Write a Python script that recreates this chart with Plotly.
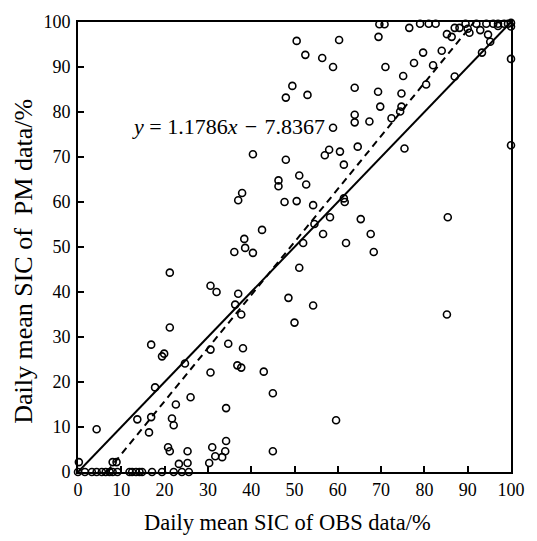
import plotly.graph_objects as go

# OBS (x) and PM (y) daily mean SIC, %
obs = [69.6, 70.8, 76.5, 69.4, 79, 81, 82.6, 85.2, 86.3, 87, 88.1, 89.5, 90, 90.4, 92, 92.9, 94.3, 94.7, 95.2, 95.9,
       97, 98.4, 99.3, 100, 100, 97, 93.3, 79.7, 84, 71, 77.6, 82, 75.1, 80.4, 87, 69.3, 74.7, 69.8, 74.7, 74.4,
       72.4, 67.3, 75.4, 100, 100,
       50.5, 60.3, 52.5, 56.4, 58.9, 49.5, 48, 53, 63.9, 63.9, 63.9, 58.9, 40.4, 48, 58, 57, 60.5, 64.6,
       61.4, 46.3, 46.3, 51.1, 52.7, 37.9, 37, 47.7, 50.5, 54.3, 61.4, 61.6, 65.3, 58.2, 54.6, 56.6, 67.6, 68.3,
       61.9, 52, 42.5, 38.4, 38.6, 36.1, 40.4, 51.1, 37, 36.3, 48.6, 54.3,
       85.4, 85.2,
       21.2, 30.6, 32,
       21.2, 16.9, 19.4, 19.9, 24.7, 30.6, 30.6, 17.8, 13.7, 16.9, 4.3, 16.4, 22.6, 26, 21.7, 22.1, 20.8, 21.2,
       25.3, 23.3, 25.3, 30.3, 31, 31.7, 33.3, 34, 34.2, 34.2, 34.7, 0.2, 8, 8.9,
       50, 37.7, 38.1, 36.8, 37.7, 42.9, 45, 59.6, 45,
       0, 1.6, 3.2, 4.3, 5.5, 6.4, 7.3, 8, 9.1, 11.9, 12.5, 13.4, 14.2, 14.8, 17.1, 19.4, 22.1, 24, 25.6]
pm = [99.5, 99.5, 98.7, 96.7, 99.6, 99.6, 99.6, 97.3, 96.7, 98.7, 98.7, 99.6, 98.5, 97.6, 99.6, 98.2, 99.6, 97.2, 95.6, 99.6,
      99.6, 99.6, 99.6, 99.8, 99, 99.1, 93.2, 93.2, 93.6, 90, 90.9, 90.4, 88, 86.1, 87.9, 84.5, 84.1, 81.2, 81.2, 80.1,
      78.6, 77.9, 71.9, 91.8, 72.6,
      95.8, 96, 92.7, 92, 90, 85.8, 83.2, 83.8, 85.4, 79.4, 77.7, 76.5, 70.6, 69.4, 71.6, 70.4, 71.2, 72.3,
      68.3, 64.8, 63.5, 65.9, 63.9, 62, 60.4, 60, 60.2, 59.3, 60.8, 60, 56.2, 56.6, 55.1, 52.9, 52.9, 48.9,
      50.9, 50.9, 53.8, 51.8, 49.8, 48.9, 48.7, 45.4, 39.6, 37.2, 38.7, 37,
      56.6, 35,
      44.3, 41.4, 40,
      32.1, 28.3, 25.7, 26.3, 24.1, 27.2, 22.1, 18.8, 11.7, 12.2, 9.5, 8.8, 15, 16.6, 11.9, 10.4, 5.5, 4.6,
      4.6, 1.8, 2, 2, 5.5, 3.5, 3.3, 4.6, 6.9, 14.2, 28.5, 2.2, 2.2, 2.2,
      33.2, 35, 27.5, 23.7, 23.2, 22.3, 17.5, 11.5, 4.6,
      0, 0, 0, 0, 0, 0, 0, 0, 0, 0, 0, 0, 0, 0, 0, 0, 0, 0, 0]

slope = 1.1786
intercept = -7.8367
tick_vals = [0, 10, 20, 30, 40, 50, 60, 70, 80, 90, 100]

x0 = -intercept / slope
x1 = (100 - intercept) / slope

fig = go.Figure()
fig.add_trace(go.Scatter(x=[0, 100], y=[0, 100], mode="lines",
                         line=dict(color="black", width=2), hoverinfo="skip"))
fig.add_trace(go.Scatter(x=[x0, x1], y=[slope * x0 + intercept, slope * x1 + intercept], mode="lines",
                         line=dict(color="black", width=2, dash="7px,5px"), hoverinfo="skip"))
fig.add_trace(go.Scatter(x=obs, y=pm, mode="markers", cliponaxis=False,
                         marker=dict(symbol="circle-open", size=7, color="black", line=dict(width=1.6))))

fig.add_annotation(x=11.9, y=76.8, xref="x", yref="y", xanchor="left", yanchor="middle",
                   text="<i>y</i> = 1.1786<i>x</i>\u2004−\u20047.8367", showarrow=False,
                   font=dict(family="Liberation Serif", size=22, color="black"))

# axis titles placed as annotations for exact positioning
fig.add_annotation(x=0.484, y=-0.113, xref="paper", yref="paper", xanchor="center", yanchor="middle",
                   text="Daily mean SIC of OBS data/%", showarrow=False,
                   font=dict(family="Liberation Serif", size=22.5, color="black"))
fig.add_annotation(x=-0.125, y=0.469, xref="paper", yref="paper", xanchor="center", yanchor="middle",
                   text="Daily mean SIC of\u00a0 PM data/%", showarrow=False, textangle=-90,
                   font=dict(family="Liberation Serif", size=26, color="black"))

axis_common = dict(range=[0, 100], tickvals=tick_vals, ticks="inside", ticklen=6, tickwidth=1.5,
                   tickcolor="black", showline=True, linecolor="black", linewidth=2, mirror=True,
                   showgrid=False, zeroline=False,
                   tickfont=dict(family="Liberation Serif", size=18, color="black"))

fig.update_layout(
    width=537, height=541, showlegend=False,
    paper_bgcolor="white", plot_bgcolor="white",
    margin=dict(l=78, r=19, t=20, b=69),
    xaxis=dict(**axis_common),
    yaxis=dict(**axis_common, ticklabelstandoff=2),
)

fig.write_html("out.html")
